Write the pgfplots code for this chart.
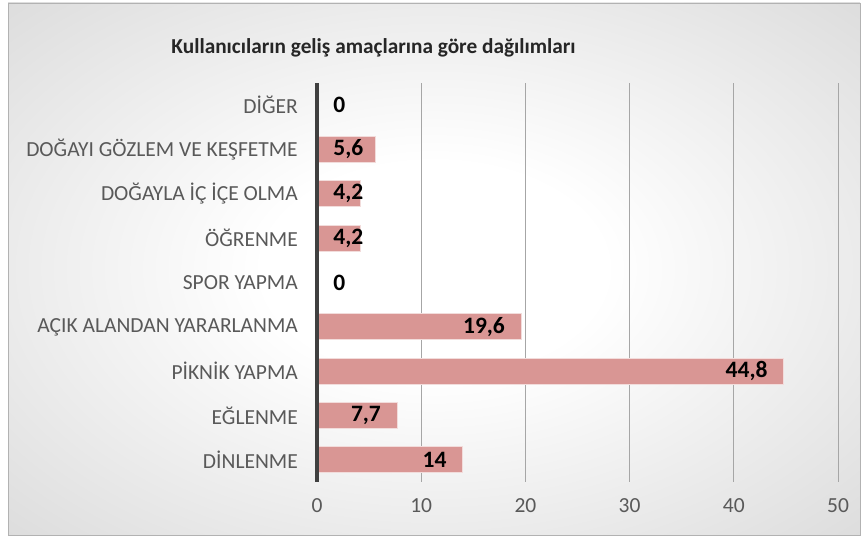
\documentclass[border=0pt]{standalone}
\usepackage{pgfplots}
\pgfplotsset{compat=1.18}
\usepackage{pgfplotstable}
\usepackage{fontspec}
\setmainfont{Carlito}
\definecolor{barfill}{HTML}{D99694}
\definecolor{barline}{HTML}{F2DCDB}
\definecolor{axisdark}{HTML}{404040}
\definecolor{ticktext}{HTML}{595959}
\pgfdeclareradialshading{bgshade}{\pgfpoint{0bp}{0bp}}{color(0bp)=(white); color(10bp)=(white); color(50bp)=(black!21); color(75bp)=(black!28)}

\pgfplotstableread{
y val
0 14
1 7.7
2 44.8
3 19.6
4 0
5 4.2
6 4.2
7 5.6
8 0
}\data

\pgfplotstableread{
y lx lab
0 12.45 14
1 6.15 {7,7}
2 43.25 {44,8}
3 18.05 {19,6}
}\labE

\pgfplotstableread{
y lx lab
4 1.55 0
5 1.55 {4,2}
6 1.55 {4,2}
7 1.55 {5,6}
8 1.55 0
}\labW

\begin{document}
\begin{tikzpicture}[x=1pt,y=1pt]
\path (0,0) rectangle (867,540);
\shade[shading=bgshade] (8,5) rectangle (860,537);
\draw[black!30, line width=0.8pt] (8,5) rectangle (860,537);
\node[font=\bfseries\fontsize{21.3}{24}\selectfont, text=black!85] at (373.5,492) {Kullanıcıların geliş amaçlarına göre dağılımları};
\begin{axis}[
  at={(317pt,58pt)}, anchor=south west,
  scale only axis, width=521pt, height=399pt,
  xmin=0, xmax=50, ymin=-0.5, ymax=8.5,
  xtick={0,10,20,30,40,50},
  ytick={0,...,8},
  yticklabels={DİNLENME, EĞLENME, PİKNİK YAPMA, AÇIK ALANDAN YARARLANMA, SPOR YAPMA, ÖĞRENME, DOĞAYLA İÇ İÇE OLMA, DOĞAYI GÖZLEM VE KEŞFETME, DİĞER},
  axis line style={draw=none},
  major tick length=0pt,
  xmajorgrids,
  major grid style={color=black!35, line width=0.9pt},
  /pgf/number format/assume math mode=true,
  tick label style={font=\fontsize{21.5}{24}\selectfont, text=ticktext},
  xticklabel style={yshift=-13pt},
  yticklabel style={inner sep=0pt, xshift=-19pt},
  clip=false,
]
\addplot[xbar, bar width=0.59, fill=barfill, draw=barline, line width=1pt] table[x=val, y=y] {\data};
\draw[line width=3.5pt, color=axisdark] (axis cs:0,-0.5) -- (axis cs:0,8.5);
\addplot[draw=none, mark=none, nodes near coords, point meta=explicit symbolic,
  every node near coord/.style={anchor=east, inner sep=0pt, font=\bfseries\fontsize{23.5}{26}\selectfont, text=black}]
  table[x=lx, y=y, meta=lab] {\labE};
\addplot[draw=none, mark=none, nodes near coords, point meta=explicit symbolic,
  every node near coord/.style={anchor=west, inner sep=0pt, font=\bfseries\fontsize{23.5}{26}\selectfont, text=black}]
  table[x=lx, y=y, meta=lab] {\labW};
\end{axis}
\end{tikzpicture}
\end{document}
